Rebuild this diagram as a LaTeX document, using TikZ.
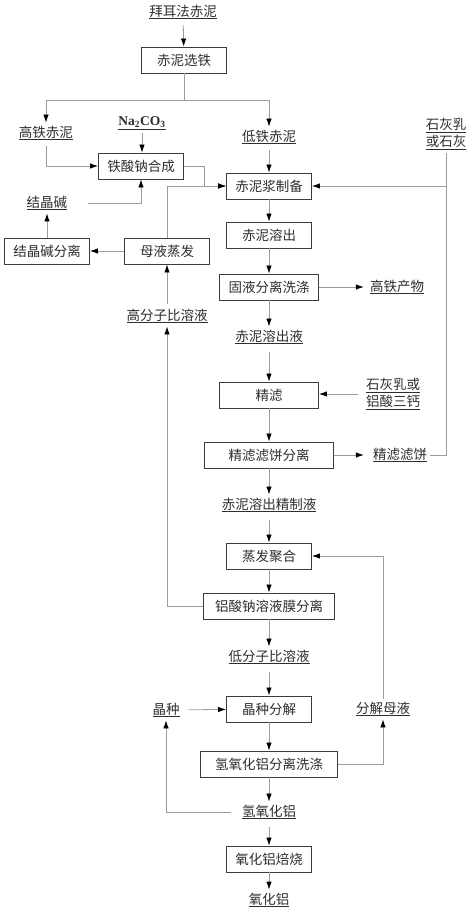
\documentclass[tikz,border=0pt]{standalone}
\usepackage{fontspec}
\setmainfont{Liberation Serif}
\newfontfamily\cjk{Noto Sans CJK SC}
\usepackage{tikz}
\usetikzlibrary{arrows.meta,positioning,calc}
\definecolor{linegray}{HTML}{9C9C9C}
\definecolor{boxgray}{HTML}{3C3C3C}
\definecolor{textgray}{HTML}{2E2E2E}

\begin{document}
\begin{tikzpicture}[x=1pt, y=-1pt,
  every node/.style={font=\cjk\fontsize{13.5}{17}\selectfont, align=center, text=textgray},
  procbox/.style={draw=boxgray, line width=0.9pt, minimum height=26pt, inner sep=2pt},
  matl/.style={inner sep=3pt},
  flow/.style={draw=linegray, line width=0.8pt, -{Latex[black,length=8pt,width=5.5pt]}},
  link/.style={draw=linegray, line width=0.8pt}]
  \useasboundingbox (0,0) rectangle (474,911);
  % main column
  \node[matl] (src) at (183,12) {\underline{拜耳法赤泥}};
  \node[procbox, minimum width=85pt] (sep) at (184,60) {赤泥选铁};
  \coordinate (split) at (184,100);
  \node[matl] (hfe) at (46,133) {\underline{高铁赤泥}};
  \node[matl] (lfe) at (269,137) {\underline{低铁赤泥}};
  \node[matl, font=\bfseries\fontsize{13.5}{17}\selectfont] (na) at (142,123) {\underline{Na\textsubscript{2}CO\textsubscript{3}}};
  \node[matl] (lime) at (446,134) {\underline{石灰乳}\\\underline{或石灰}};
  \node[procbox, minimum width=85pt] (synth) at (141,166) {铁酸钠合成};
  \node[matl] (soda) at (47,203) {\underline{结晶碱}};
  \node[procbox, minimum width=85pt] (slurry) at (269,186) {赤泥浆制备};
  \node[procbox, minimum width=85pt] (leach) at (269,235) {赤泥溶出};
  \node[procbox, minimum width=85pt] (sodasep) at (47,251) {结晶碱分离};
  \node[procbox, minimum width=85pt] (evap) at (167,251) {母液蒸发};
  \node[procbox, minimum width=99pt] (wash) at (269,287) {固液分离洗涤};
  \node[matl] (hfprod) at (397,287) {\underline{高铁产物}};
  \node[matl] (highsol) at (167,316) {\underline{高分子比溶液}};
  \node[matl] (leachliq) at (269,337) {\underline{赤泥溶出液}};
  \node[procbox, minimum width=99pt] (filt) at (269,395) {精滤};
  \node[matl] (aid) at (393,394) {\underline{石灰乳或}\\\underline{铝酸三钙}};
  \node[procbox, minimum width=129pt] (cakesep) at (269,455) {精滤滤饼分离};
  \node[matl] (cake) at (400,455) {\underline{精滤滤饼}};
  \node[matl] (refliq) at (269,505) {\underline{赤泥溶出精制液}};
  \node[procbox, minimum width=85pt] (poly) at (269,556) {蒸发聚合};
  \node[procbox, minimum width=131pt] (memb) at (269,606) {铝酸钠溶液膜分离};
  \node[matl] (lowsol) at (269,657) {\underline{低分子比溶液}};
  \node[procbox, minimum width=85pt] (seedd) at (269,709) {晶种分解};
  \node[matl] (seed) at (166,710) {\underline{晶种}};
  \node[matl] (mother) at (383,709) {\underline{分解母液}};
  \node[procbox, minimum width=137pt] (ahsep) at (269,764) {氢氧化铝分离洗涤};
  \node[matl] (ah) at (269,812) {\underline{氢氧化铝}};
  \node[procbox, minimum width=85pt] (calc) at (269,859) {氧化铝焙烧};
  \node[matl] (alu) at (269,900) {\underline{氧化铝}};
  % connectors
  \draw[flow, shorten <=3pt] (src) -- (sep);
  \draw[link] (sep.south) -- (split);
  \draw[flow] (split) -| (hfe.north);
  \draw[flow] (split) -| (lfe.north);
  \draw[flow, shorten <=3pt] (hfe.south) |- (synth.west);
  \draw[flow] (na.south) -- (na.south |- synth.north);
  \draw[flow, shorten <=18pt] (soda.east) -| (synth.south);
  \draw[flow] (synth.east) -- ++(20,0) |- (slurry.west);
  \draw[flow] (evap.north) |- (slurry.west);
  \draw[flow, shorten <=2pt] (lime.south) |- (slurry.east);
  \draw[link] (cake.east) -| (lime.south);
  \draw[flow, shorten <=3pt] (lfe) -- (slurry);
  \draw[flow] (slurry) -- (leach);
  \draw[flow] (leach) -- (wash);
  \draw[flow, shorten >=3pt] (wash) -- (hfprod);
  \draw[flow] (wash) -- (leachliq);
  \draw[flow, shorten <=5pt] (leachliq) -- (filt);
  \draw[flow, shorten <=5pt] (aid.west) -- (aid.west -| filt.east);
  \draw[flow] (filt) -- (cakesep);
  \draw[flow, shorten >=6pt] (cakesep) -- (cake);
  \draw[flow] (cakesep) -- (refliq);
  \draw[flow, shorten <=5pt] (refliq) -- (poly);
  \draw[flow] (poly) -- (memb);
  \draw[flow] (memb.west) -| (highsol.south);
  \draw[flow, shorten <=2pt] (highsol) -- (evap);
  \draw[flow] (evap) -- (sodasep);
  \draw[flow] (sodasep) -- (soda);
  \draw[flow] (memb) -- (lowsol);
  \draw[flow, shorten <=5pt] (lowsol) -- (seedd);
  \draw[flow, shorten <=6pt] (seed) -- (seedd);
  \draw[flow] (seedd) -- (ahsep);
  \draw[flow] (ahsep.east) -| (mother.south);
  \draw[flow] (mother.north) |- (poly.east);
  \draw[flow] (ahsep) -- (ah);
  \draw[flow, shorten <=8pt] (ah.west) -| (seed.south);
  \draw[flow, shorten <=5pt] (ah) -- (calc);
  \draw[flow] (calc) -- (alu);
\end{tikzpicture}
\end{document}
